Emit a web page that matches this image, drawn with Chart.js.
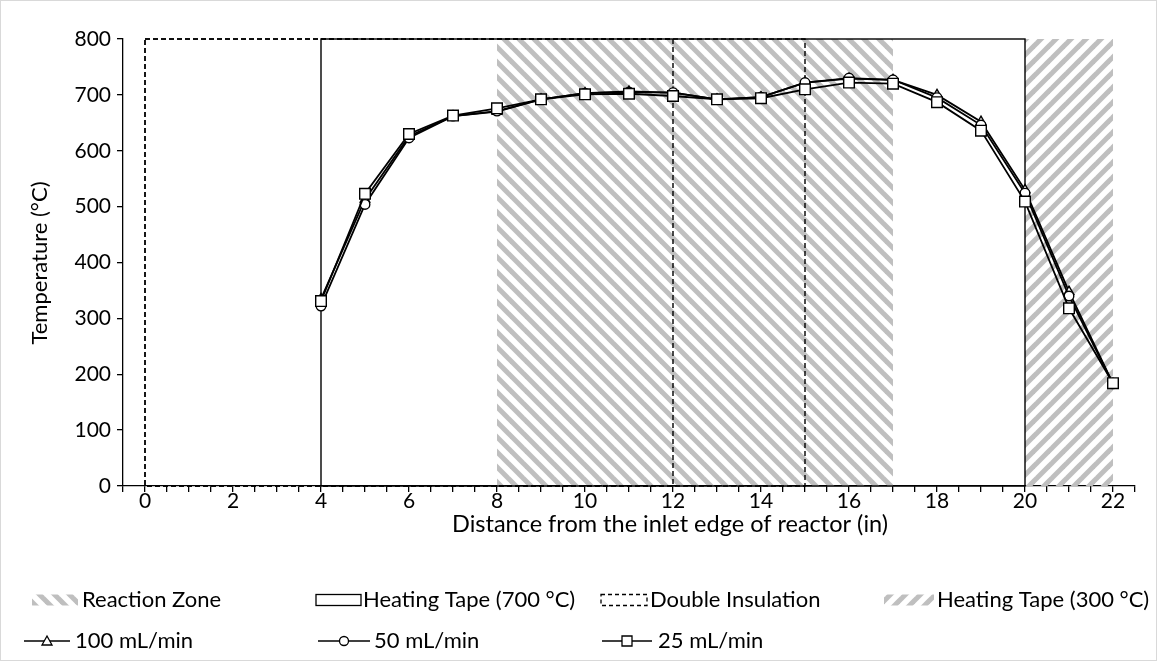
<!DOCTYPE html>
<html>
<head>
<meta charset="utf-8">
<script src="https://cdn.jsdelivr.net/npm/chart.js"></script>
<style>
  html, body { margin: 0; padding: 0; background: #fff; }
  #wrap { width: 1157px; height: 661px; position: relative; }
</style>
</head>
<body>
<div id="wrap"><canvas id="c" width="1157" height="661"></canvas></div>
<script>
// ---- data ----
const distances = [4, 5, 6, 7, 8, 9, 10, 11, 12, 13, 14, 15, 16, 17, 18, 19, 20, 21, 22];
const flow100 = [335, 513, 626, 662, 670, 692, 703, 706, 704, 692, 696, 722, 729, 727, 700, 652, 530, 348, 183];
const flow50  = [322, 504, 623, 662, 671, 692, 703, 705, 704, 692, 696, 722, 730, 727, 695, 646, 524, 340, 183];
const flow25  = [331, 523, 630, 663, 676, 692, 701, 702, 698, 692, 694, 710, 722, 720, 687, 636, 509, 318, 184];

const reactionZone = [8, 17];
const heatingTape700 = [4, 20];
const doubleInsulation = [[0, 12], [0, 15]];
const heatingTape300 = [20, 22];
const zoneTop = 800;

const seriesNames = ['100 mL/min', '50 mL/min', '25 mL/min'];
const zoneNames = ['Reaction Zone', 'Heating Tape (700 °C)', 'Double Insulation', 'Heating Tape (300 °C)'];
const xTitle = 'Distance from the inlet edge of reactor (in)';
const yTitle = 'Temperature (°C)';

const FONT = 'Lato, "Liberation Sans", sans-serif';
const FS_TICK = 21, FS_XTITLE = 23.5, FS_YTITLE = 22, FS_LEG = 22;

function pts(vals) { return distances.map((d, i) => ({ x: d, y: vals[i] })); }

function makeHatch(ctx, dir) {
  const s = 15;
  const c = document.createElement('canvas');
  c.width = s; c.height = s;
  const g = c.getContext('2d');
  g.strokeStyle = '#bfbfbf';
  g.lineWidth = 5;
  for (let k = -1; k <= 1; k++) {
    g.beginPath();
    if (dir === 'back') { g.moveTo(-s, -s + k * s); g.lineTo(2 * s, 2 * s + k * s); }
    else { g.moveTo(-s, 2 * s + k * s); g.lineTo(2 * s, -s + k * s); }
    g.stroke();
  }
  return ctx.createPattern(c, 'repeat');
}

function drawMarker(ctx, style, x, y) {
  ctx.save();
  ctx.fillStyle = '#fff'; ctx.strokeStyle = '#000'; ctx.lineWidth = 1.3;
  ctx.beginPath();
  if (style === 'rect') { ctx.rect(x - 5, y - 5, 10, 10); }
  else if (style === 'circle') { ctx.arc(x, y, 4.5, 0, Math.PI * 2); }
  else { ctx.moveTo(x, y - 5); ctx.lineTo(x + 5, y + 4); ctx.lineTo(x - 5, y + 4); ctx.closePath(); }
  ctx.fill(); ctx.stroke();
  ctx.restore();
}

const zonesPlugin = {
  id: 'zones',
  beforeDatasetsDraw(chart) {
    const { ctx, scales: { x, y } } = chart;
    const yT = y.getPixelForValue(zoneTop), yB = y.getPixelForValue(0);
    ctx.save();
    ctx.fillStyle = makeHatch(ctx, 'back');
    let a = x.getPixelForValue(reactionZone[0]), b = x.getPixelForValue(reactionZone[1]);
    ctx.fillRect(a, yT, b - a, yB - yT);
    ctx.fillStyle = makeHatch(ctx, 'fwd');
    a = x.getPixelForValue(heatingTape300[0]); b = x.getPixelForValue(heatingTape300[1]);
    ctx.fillRect(a, yT, b - a, yB - yT);
    ctx.strokeStyle = '#000';
    ctx.lineWidth = 1.4;
    ctx.setLineDash([5, 3]);
    doubleInsulation.forEach(r => {
      const p = x.getPixelForValue(r[0]), q = x.getPixelForValue(r[1]);
      ctx.strokeRect(p, yT, q - p, yB - yT);
    });
    ctx.setLineDash([]);
    a = x.getPixelForValue(heatingTape700[0]); b = x.getPixelForValue(heatingTape700[1]);
    ctx.strokeRect(a, yT, b - a, yB - yT);
    ctx.restore();
  },
  afterDraw(chart) {
    const ctx = chart.ctx;
    ctx.save();
    ctx.strokeStyle = '#d9d9d9'; ctx.lineWidth = 1;
    ctx.strokeRect(0.5, 0.5, chart.width - 1, chart.height - 1);
    ctx.fillStyle = '#000';
    ctx.textAlign = 'center'; ctx.textBaseline = 'middle';
    ctx.font = FS_XTITLE + 'px ' + FONT;
    ctx.fillText(xTitle, 670, 524);
    ctx.font = FS_YTITLE + 'px ' + FONT;
    ctx.save();
    ctx.translate(40, 263); ctx.rotate(-Math.PI / 2);
    ctx.fillText(yTitle, 0, 0);
    ctx.restore();
    ctx.font = FS_LEG + 'px ' + FONT;
    ctx.textAlign = 'left';
    const r1 = 600, r2 = 641, h = 11;
    ctx.fillStyle = makeHatch(ctx, 'back');
    ctx.fillRect(32, r1 - h / 2, 46, h);
    ctx.strokeStyle = '#000'; ctx.lineWidth = 1.3;
    ctx.strokeRect(316, r1 - h / 2, 45, h);
    ctx.setLineDash([4, 3]);
    ctx.strokeRect(601, r1 - h / 2, 46, h);
    ctx.setLineDash([]);
    ctx.fillStyle = makeHatch(ctx, 'fwd');
    ctx.fillRect(884, r1 - h / 2, 50, h);
    ctx.fillStyle = '#000';
    ctx.fillText(zoneNames[0], 82, r1);
    ctx.fillText(zoneNames[1], 363, r1);
    ctx.fillText(zoneNames[2], 650, r1);
    ctx.fillText(zoneNames[3], 937, r1);
    const items = [[24, 70, 'triangle', 75], [318, 370, 'circle', 374], [602, 652, 'rect', 658]];
    items.forEach((it, i) => {
      ctx.strokeStyle = '#000'; ctx.lineWidth = 1.5;
      ctx.beginPath(); ctx.moveTo(it[0], r2); ctx.lineTo(it[1], r2); ctx.stroke();
      drawMarker(ctx, it[2], (it[0] + it[1]) / 2, r2);
      ctx.fillStyle = '#000';
      ctx.fillText(seriesNames[i], it[3], r2);
    });
    ctx.restore();
  }
};

const common = {
  borderColor: '#000', borderWidth: 1.8, pointBackgroundColor: '#fff',
  pointBorderColor: '#000', pointBorderWidth: 1.4, showLine: true, tension: 0
};

new Chart(document.getElementById('c'), {
  type: 'scatter',
  data: {
    datasets: [
      Object.assign({ label: seriesNames[2], data: pts(flow25), pointStyle: 'rect', pointRadius: 7.5 }, common),
      Object.assign({ label: seriesNames[1], data: pts(flow50), pointStyle: 'circle', pointRadius: 4.8 }, common),
      Object.assign({ label: seriesNames[0], data: pts(flow100), pointStyle: 'triangle', pointRadius: 5.5 }, common)
    ]
  },
  options: {
    responsive: false,
    animation: false,
    devicePixelRatio: 1,
    layout: { padding: { top: 39, right: 22, bottom: 0, left: 0 } },
    plugins: { legend: { display: false }, tooltip: { enabled: false } },
    scales: {
      x: {
        type: 'linear', min: -0.5, max: 22.5,
        afterFit(s) { s.height = 661 - 486; },
        border: { display: true, color: '#000', width: 1.3 },
        grid: { display: true, drawOnChartArea: false, drawTicks: true, tickLength: 6, color: '#000', lineWidth: 1.3 },
        ticks: {
          stepSize: 0.5, autoSkip: false, maxRotation: 0, color: '#000', padding: -3,
          font: { family: FONT, size: FS_TICK },
          callback: v => (Math.abs(v % 2) < 1e-9 ? String(v) : '')
        }
      },
      y: {
        type: 'linear', min: 0, max: 800,
        afterFit(s) { s.width = 123; },
        border: { display: true, color: '#000', width: 1.3 },
        grid: { display: true, drawOnChartArea: false, drawTicks: true, tickLength: 6, color: '#000', lineWidth: 1.3 },
        ticks: { stepSize: 100, color: '#000', padding: 6, font: { family: FONT, size: FS_TICK } }
      }
    }
  },
  plugins: [zonesPlugin]
});
</script>
</body>
</html>
